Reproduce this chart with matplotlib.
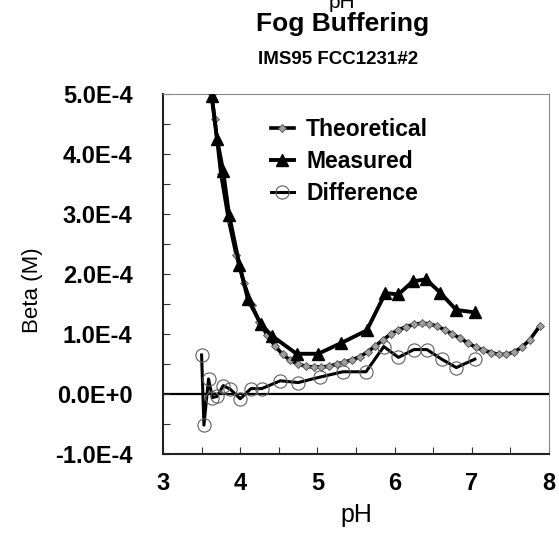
import matplotlib
matplotlib.use("Agg")
import matplotlib.pyplot as plt
from matplotlib.ticker import MultipleLocator

plt.rcParams['font.family'] = ['Liberation Sans', 'DejaVu Sans']

# Theoretical buffer capacity (M)
ph_theo = [3.63, 3.67, 3.75, 3.85, 3.95, 4.05, 4.15, 4.25, 4.35, 4.45, 4.55,
           4.65, 4.75, 4.85, 4.95, 5.05, 5.15, 5.25, 5.35, 5.45, 5.55, 5.65,
           5.75, 5.85, 5.95, 6.05, 6.15, 6.25, 6.35, 6.45, 6.55, 6.65, 6.75,
           6.85, 6.95, 7.05, 7.15, 7.25, 7.35, 7.45, 7.55, 7.65, 7.75, 7.88]
beta_theo = [5.0, 4.58, 3.67, 2.9, 2.31, 1.85, 1.48, 1.2, 0.98, 0.8, 0.66,
             0.56, 0.5, 0.46, 0.45, 0.45, 0.46, 0.5, 0.53, 0.57, 0.62, 0.7,
             0.8, 0.9, 1.0, 1.07, 1.12, 1.16, 1.18, 1.17, 1.13, 1.07, 1.0,
             0.93, 0.85, 0.78, 0.73, 0.69, 0.66, 0.66, 0.7, 0.78, 0.9, 1.13]

# Measured
ph_meas = [3.63, 3.70, 3.78, 3.855, 3.99, 4.1, 4.27, 4.41, 4.73, 5.01, 5.31,
           5.64, 5.88, 6.05, 6.24, 6.41, 6.59, 6.8, 7.04]
beta_meas = [4.96, 4.25, 3.71, 2.99, 2.15, 1.58, 1.16, 0.97, 0.67, 0.67, 0.85,
             1.06, 1.68, 1.66, 1.88, 1.91, 1.69, 1.4, 1.36]

# Difference (measured - theoretical)
ph_diff = [3.5, 3.53, 3.59, 3.64, 3.70, 3.78, 3.87, 4.0, 4.14, 4.28, 4.52,
           4.75, 5.03, 5.33, 5.63, 5.86, 6.05, 6.25, 6.42, 6.61, 6.8, 7.04]
beta_diff = [0.65, -0.52, 0.25, -0.06, -0.04, 0.14, 0.08, -0.08, 0.09, 0.09,
             0.22, 0.19, 0.28, 0.37, 0.37, 0.79, 0.61, 0.74, 0.74, 0.58, 0.44,
             0.58]

ytick_vals = [-1e-4, 0, 1e-4, 2e-4, 3e-4, 4e-4, 5e-4]
ytick_labels = ['-1.0E-4', '0.0E+0', '1.0E-4', '2.0E-4', '3.0E-4', '4.0E-4', '5.0E-4']

scale = 1e-4

fig = plt.figure(figsize=(5.59, 5.40), dpi=100)
ax = fig.add_axes([0.2916, 0.1593, 0.6904, 0.6667])

ax.axhline(0, color='black', lw=1.6, zorder=1)

ax.plot(ph_theo, [b * scale for b in beta_theo], color='black', lw=2.6,
        marker='D', markersize=4, markerfacecolor='#a0a0a0',
        markeredgecolor='#505050', markeredgewidth=0.6, label='Theoretical', zorder=3)
ax.plot(ph_meas, [b * scale for b in beta_meas], color='black', lw=2.8,
        marker='^', markersize=8, markerfacecolor='black',
        markeredgecolor='black', label='Measured', zorder=4)
ax.plot(ph_diff, [b * scale for b in beta_diff], color='black', lw=2.2,
        marker='o', markersize=9.5, markerfacecolor='none',
        markeredgecolor='#606060', markeredgewidth=0.8, label='Difference', zorder=2)

ax.set_xlim(3, 8)
ax.set_ylim(-1e-4, 5e-4)
ax.set_xticks([3, 4, 5, 6, 7, 8])
ax.xaxis.set_minor_locator(MultipleLocator(0.5))
ax.set_yticks(ytick_vals)
ax.set_yticklabels(ytick_labels)
ax.yaxis.set_minor_locator(MultipleLocator(0.5e-4))

ax.tick_params(which='both', direction='in', length=5, width=0.8, color='#333333')
ax.tick_params(axis='y', which='both', left=True, right=False, pad=22,
               labelsize=17)
ax.tick_params(axis='x', which='both', top=False, pad=13, labelsize=17)
for lab in ax.get_xticklabels() + ax.get_yticklabels():
    lab.set_fontweight('bold')

for side in ['left', 'bottom']:
    ax.spines[side].set_linewidth(1.5)
    ax.spines[side].set_color('#222222')
for side in ['top', 'right']:
    ax.spines[side].set_linewidth(0.8)
    ax.spines[side].set_color('#888888')

ax.set_xlabel('pH', fontsize=18, labelpad=6)
ax.set_ylabel('Beta (M)', fontsize=16)
ax.yaxis.set_label_coords(-0.31, 0.455)

ax.legend(loc='upper left', bbox_to_anchor=(0.255, 0.96), frameon=False,
          prop={'weight': 'bold', 'size': 16.5}, handlelength=1.0,
          handletextpad=0.55, labelspacing=0.4, borderaxespad=0)

fig.text(0.612, 1 - 8 / 540, 'pH', ha='center', va='baseline', fontsize=15)
fig.text(0.612, 1 - 31 / 540, 'Fog Buffering', ha='center', va='baseline',
         fontsize=19, fontweight='bold')
fig.text(0.605, 1 - 64 / 540, 'IMS95 FCC1231#2', ha='center', va='baseline',
         fontsize=13.5, fontweight='bold')

fig.savefig('out.png', dpi=100)
